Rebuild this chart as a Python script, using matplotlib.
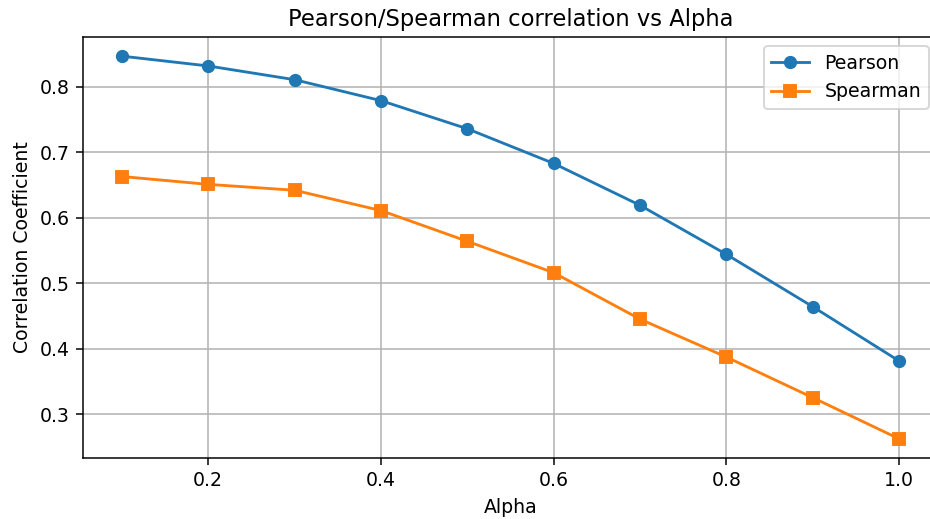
import matplotlib
matplotlib.use("Agg")
import matplotlib.pyplot as plt

alpha = [0.1, 0.2, 0.3, 0.4, 0.5, 0.6, 0.7, 0.8, 0.9, 1.0]
pearson = [0.847, 0.832, 0.811, 0.779, 0.736, 0.683, 0.619, 0.544, 0.464, 0.381]
spearman = [0.663, 0.651, 0.642, 0.611, 0.564, 0.516, 0.445, 0.387, 0.325, 0.262]

W, H = 930, 519
DPI = 136
fig = plt.figure(figsize=(W / DPI, H / DPI), dpi=DPI)
ax = fig.add_axes([83 / W, 61 / H, 855 / W, 421 / H])
ax.plot(alpha, pearson, marker='o', label='Pearson')
ax.plot(alpha, spearman, marker='s', label='Spearman')
ax.set_title('Pearson/Spearman correlation vs Alpha')
ax.set_xlabel('Alpha')
ax.set_ylabel('Correlation Coefficient')
ax.grid(True)
ax.legend()
fig.savefig('out.png', dpi=DPI)
